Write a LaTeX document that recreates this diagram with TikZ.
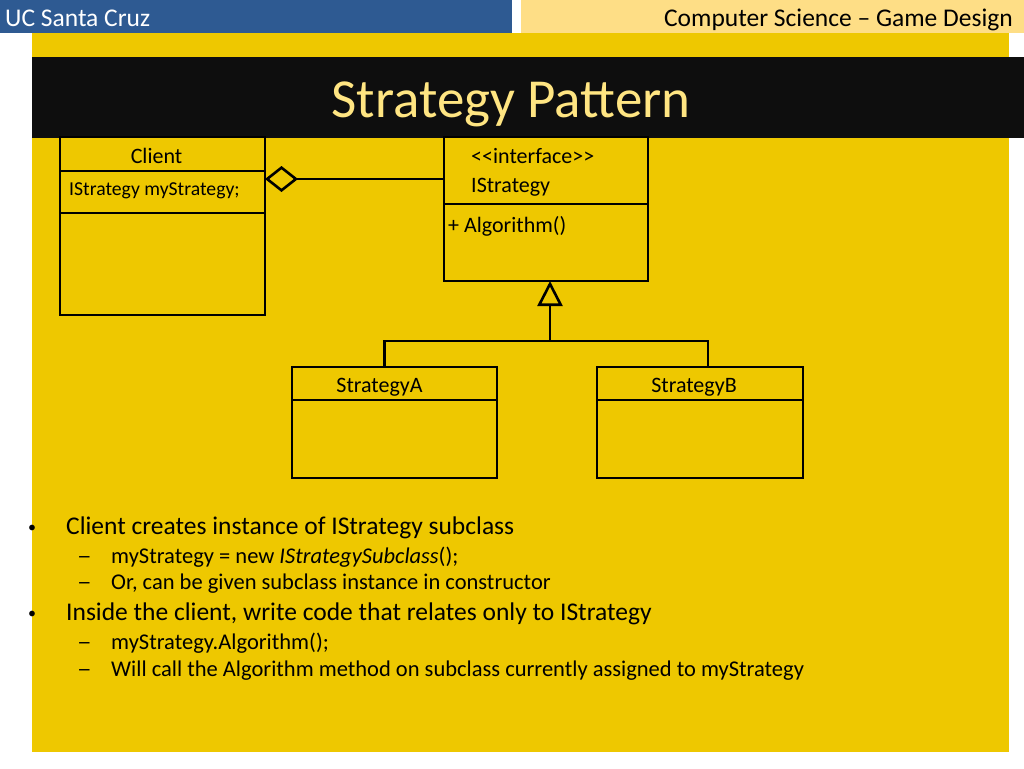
\documentclass[tikz,border=0pt]{standalone}
\usepackage{fontspec}
\setmainfont{Carlito}
\usetikzlibrary{positioning,arrows.meta}
\definecolor{ucblue}{RGB}{46,90,146}
\definecolor{ucsand}{RGB}{254,222,134}
\definecolor{slidegold}{RGB}{238,200,0}
\definecolor{titlegold}{RGB}{255,229,130}
\definecolor{barblack}{RGB}{14,14,14}
\newcommand{\subdash}{\scalebox{1.3}[1]{\textendash}}
\tikzset{
  cls/.style={
    % The shape:
    shape=rectangle,
    % The size:
    minimum width=205pt,
    % The border:
    line width=2.6pt,draw=black,
    outer sep=0pt,inner sep=0pt
  }}
\tikzset{
  umltext/.style={
    inner sep=0pt,
    font=\fontsize{22}{26}\selectfont},
  bulletdot/.style={
    anchor=base west,inner sep=0pt,
    font=\fontsize{16}{20}\selectfont},
  bulletline/.style={
    anchor=base west,inner sep=0pt,
    font=\fontsize{25.5}{30}\selectfont},
  subline/.style={
    anchor=base west,inner sep=0pt,
    font=\fontsize{22.5}{27}\selectfont}}

\begin{document}
\begin{tikzpicture}[x=1pt,y=-1pt]
	\useasboundingbox (0,0) rectangle (1024,768);
	% Slide background
	\fill[ucblue] (0,0) rectangle (512,33);
	\fill[ucsand] (521,0) rectangle (1024,33);
	\fill[slidegold] (32,33) rectangle (1009,752);
	\fill[barblack] (32,57) rectangle (1024,138);
	\node[anchor=base west,inner sep=0pt,text=white,font=\fontsize{25.5}{30}\selectfont] (campus) at (5,27) {UC Santa Cruz};
	\node[anchor=base east,inner sep=0pt,font=\fontsize{25.5}{30}\selectfont] (course) at (1013,27) {Computer Science \textendash{} Game Design};
	\node[anchor=base,inner sep=0pt,text=titlegold,font=\fontsize{55}{60}\selectfont] (title) at (511,117) {Strategy Pattern};
	% Client class
	\node[cls,minimum height=34pt,anchor=north west] (chead) at (60,137) {};
	\node[cls,minimum height=42pt,below=0pt of chead] (cattr) {};
	\node[cls,minimum height=102pt,below=0pt of cattr] (cops) {};
	\node[umltext,anchor=base] (cname) at ([xshift=-6pt,yshift=-26pt]chead.north) {Client};
	\node[umltext,anchor=base west,font=\fontsize{19.7}{24}\selectfont] (cfield) at ([xshift=9pt,yshift=-24pt]cattr.north west) {IStrategy myStrategy;};
	% IStrategy interface
	\node[cls,minimum width=204pt,minimum height=67pt,anchor=north west] (ihead) at (444,137) {};
	\node[cls,minimum width=204pt,minimum height=77pt,below=0pt of ihead] (iops) {};
	\node[umltext,anchor=base west] (istereo) at ([xshift=27pt,yshift=-26pt]ihead.north west) {<\kern0pt<interface>\kern0pt>};
	\node[umltext,anchor=base west] (iname) at ([xshift=27pt,yshift=-55pt]ihead.north west) {IStrategy};
	\node[umltext,anchor=base west] (imethod) at ([xshift=4pt,yshift=-28pt]iops.north west) {+ Algorithm()};
	% Concrete strategies
	\node[cls,minimum height=33pt,anchor=north west] (ahead) at (292,367) {};
	\node[cls,minimum height=78pt,below=0pt of ahead] (abody) {};
	\node[umltext,anchor=base] (aname) at ([xshift=-15pt,yshift=-25pt]ahead.north) {StrategyA};
	\node[cls,minimum width=206pt,minimum height=33pt,anchor=north west] (bhead) at (597,367) {};
	\node[cls,minimum width=206pt,minimum height=78pt,below=0pt of bhead] (bbody) {};
	\node[umltext,anchor=base] (bname) at ([xshift=-6pt,yshift=-25pt]bhead.north) {StrategyB};
	% Aggregation
	\coordinate (aggend) at ([yshift=-8pt]cattr.north east);
	\draw[line width=2.6pt,-{Diamond[open,length=33pt,width=26pt]}] (ihead.west |- aggend) -- (aggend);
	% Generalisation
	\coordinate (fork) at (550,341);
	\draw[line width=2.6pt,-{Triangle[open,length=25pt,width=25pt]}] (fork) -- (fork |- iops.south);
	\draw[line width=2.6pt] ([xshift=-10pt]ahead.north) |- (fork) -| ([xshift=8pt]bhead.north);
	% Bullets
	\node[bulletdot] (dot1) at (28,532) {•};
	\node[bulletline] (item1) at (66,534) {Client creates instance of IStrategy subclass};
	\node[subline] (dash1) at (77,563) {\subdash};
	\node[subline] (sub1) at (111,563) {myStrategy = new \textit{IStrategySubclass}();};
	\node[subline] (dash2) at (77,589) {\subdash};
	\node[subline] (sub2) at (111,589) {Or, can be given subclass instance in constructor};
	\node[bulletdot] (dot2) at (28,618) {•};
	\node[bulletline] (item2) at (66,620) {Inside the client, write code that relates only to IStrategy};
	\node[subline] (dash3) at (77,649) {\subdash};
	\node[subline] (sub3) at (111,649) {myStrategy.Algorithm();};
	\node[subline] (dash4) at (77,676) {\subdash};
	\node[subline] (sub4) at (111,676) {Will call the Algorithm method on subclass currently assigned to myStrategy};
\end{tikzpicture}
\end{document}
